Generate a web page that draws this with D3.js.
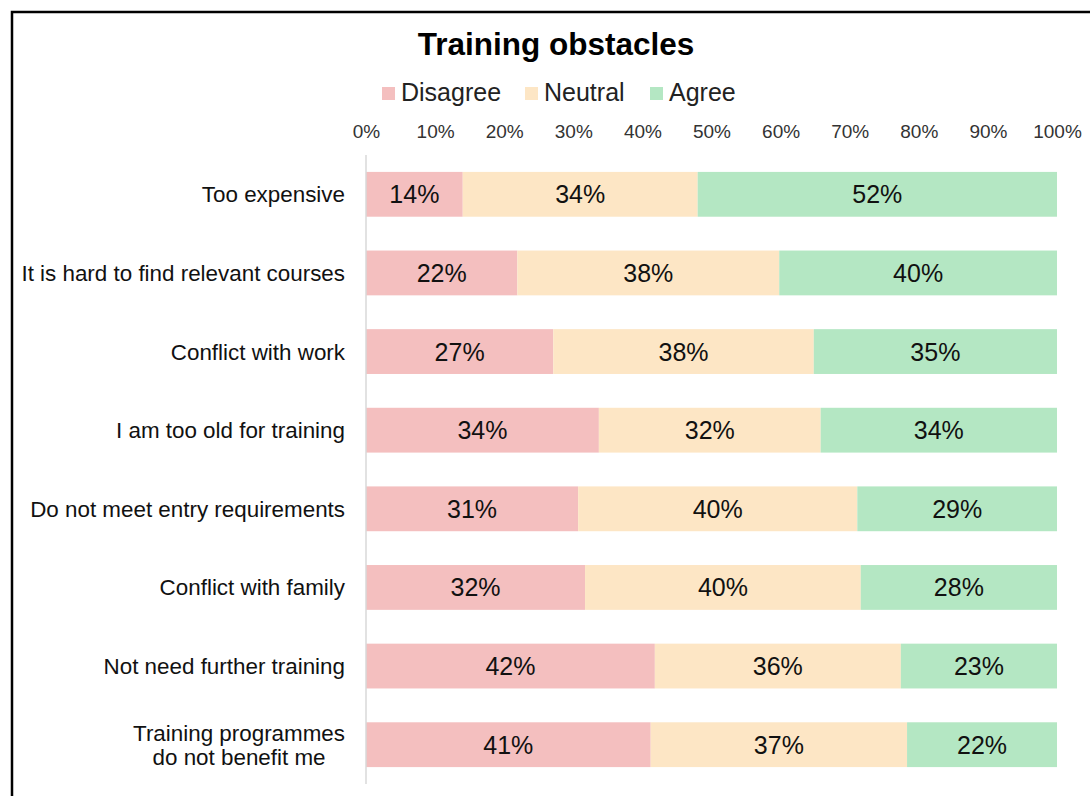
<!DOCTYPE html>
<html>
<head>
<meta charset="utf-8">
<script src="https://cdn.jsdelivr.net/npm/d3@7"></script>
<style>
  body { margin: 0; background: #fff; }
  svg { display: block; font-family: "Liberation Sans", Arial, sans-serif; }
</style>
</head>
<body>
<svg id="chart" width="1090" height="796"></svg>
<script>
const categories = [
  'Too expensive',
  'It is hard to find relevant courses',
  'Conflict with work',
  'I am too old for training',
  'Do not meet entry requirements',
  'Conflict with family',
  'Not need further training',
  'Training programmes\ndo not benefit me'
];
const seriesNames = ['Disagree', 'Neutral', 'Agree'];
const seriesColors = ['#f4bfbf', '#fde6c5', '#b4e7c3'];
const disagree = [14.0, 21.9, 27.1, 33.7, 30.7, 31.7, 41.8, 41.2];
const neutral = [34.0, 37.9, 37.7, 32.1, 40.4, 39.9, 35.6, 37.1];
const agree = [52.0, 40.2, 35.2, 34.2, 28.9, 28.4, 22.6, 21.7];
const xTicks = [0, 10, 20, 30, 40, 50, 60, 70, 80, 90, 100];

const svg = d3.select('#chart');
const margin = { top: 155, left: 366, right: 33, bottom: 12 };
const W = 1090, H = 796;

// frame (cropped on right and bottom)
svg.append('path')
  .attr('d', `M12,${H + 5} L12,12 L${W + 5},12`)
  .attr('fill', 'none')
  .attr('stroke', '#000')
  .attr('stroke-width', 2.5);

const x = d3.scaleLinear().domain([0, 100]).range([margin.left, W - margin.right]);
const y = d3.scaleBand().domain(d3.range(categories.length))
  .range([margin.top, H - margin.bottom]).paddingInner(0.43).paddingOuter(0.215);

const rows = categories.map((c, i) => {
  const vals = [disagree[i], neutral[i], agree[i]];
  let acc = 0;
  return vals.map((v, k) => { const s = { k, x0: acc, x1: acc + v, v, i }; acc += v; return s; });
});

// title
svg.append('text')
  .attr('x', 556).attr('y', 55)
  .attr('text-anchor', 'middle')
  .attr('font-size', 31.5).attr('font-weight', 'bold')
  .text('Training obstacles');

// legend
const legendX = [382, 525, 650];
const legend = svg.append('g');
seriesNames.forEach((n, k) => {
  legend.append('rect')
    .attr('x', legendX[k]).attr('y', 87).attr('width', 13).attr('height', 13)
    .attr('fill', seriesColors[k]);
  legend.append('text')
    .attr('x', legendX[k] + 19).attr('y', 101)
    .attr('font-size', 25).attr('fill', '#222')
    .text(n);
});

// top axis
const axis = svg.append('g')
  .attr('transform', `translate(0,${138})`)
  .call(d3.axisTop(x).tickValues(xTicks).tickSize(0).tickPadding(0).tickFormat(d => d + '%'));
axis.select('.domain').remove();
axis.selectAll('text').attr('font-size', 19).attr('fill', '#333').attr('dy', 0)
  .attr('font-family', '"Liberation Sans", Arial, sans-serif');

// bars
const rowG = svg.append('g').selectAll('g').data(rows).join('g');
rowG.selectAll('rect').data(d => d).join('rect')
  .attr('x', d => x(d.x0))
  .attr('width', d => x(d.x1) - x(d.x0))
  .attr('y', d => y(d.i))
  .attr('height', y.bandwidth())
  .attr('fill', d => seriesColors[d.k]);
rowG.selectAll('text').data(d => d).join('text')
  .attr('x', d => (x(d.x0) + x(d.x1)) / 2)
  .attr('y', d => y(d.i) + y.bandwidth() / 2 + 9)
  .attr('text-anchor', 'middle')
  .attr('font-size', 25).attr('fill', '#111')
  .text(d => Math.round(d.v) + '%');

// vertical axis line
svg.append('line')
  .attr('x1', x(0)).attr('x2', x(0))
  .attr('y1', margin.top).attr('y2', H - margin.bottom)
  .attr('stroke', '#d9d9d9').attr('stroke-width', 1.5);

// category labels
categories.forEach((c, i) => {
  const lines = c.split('\n');
  const cy = y(i) + y.bandwidth() / 2;
  const t = svg.append('text')
    .attr('font-size', 22.4).attr('fill', '#111')
    .attr('text-anchor', lines.length > 1 ? 'middle' : 'end');
  lines.forEach((l, j) => {
    t.append('tspan')
      .attr('y', cy + 8 + (j - (lines.length - 1) / 2) * 24)
      .text(l);
  });
  if (lines.length > 1) {
    let maxW = 0;
    t.selectAll('tspan').each(function () { maxW = Math.max(maxW, this.getComputedTextLength()); });
    t.selectAll('tspan').attr('x', 345 - maxW / 2);
  } else {
    t.selectAll('tspan').attr('x', 345);
  }
});
</script>
</body>
</html>
